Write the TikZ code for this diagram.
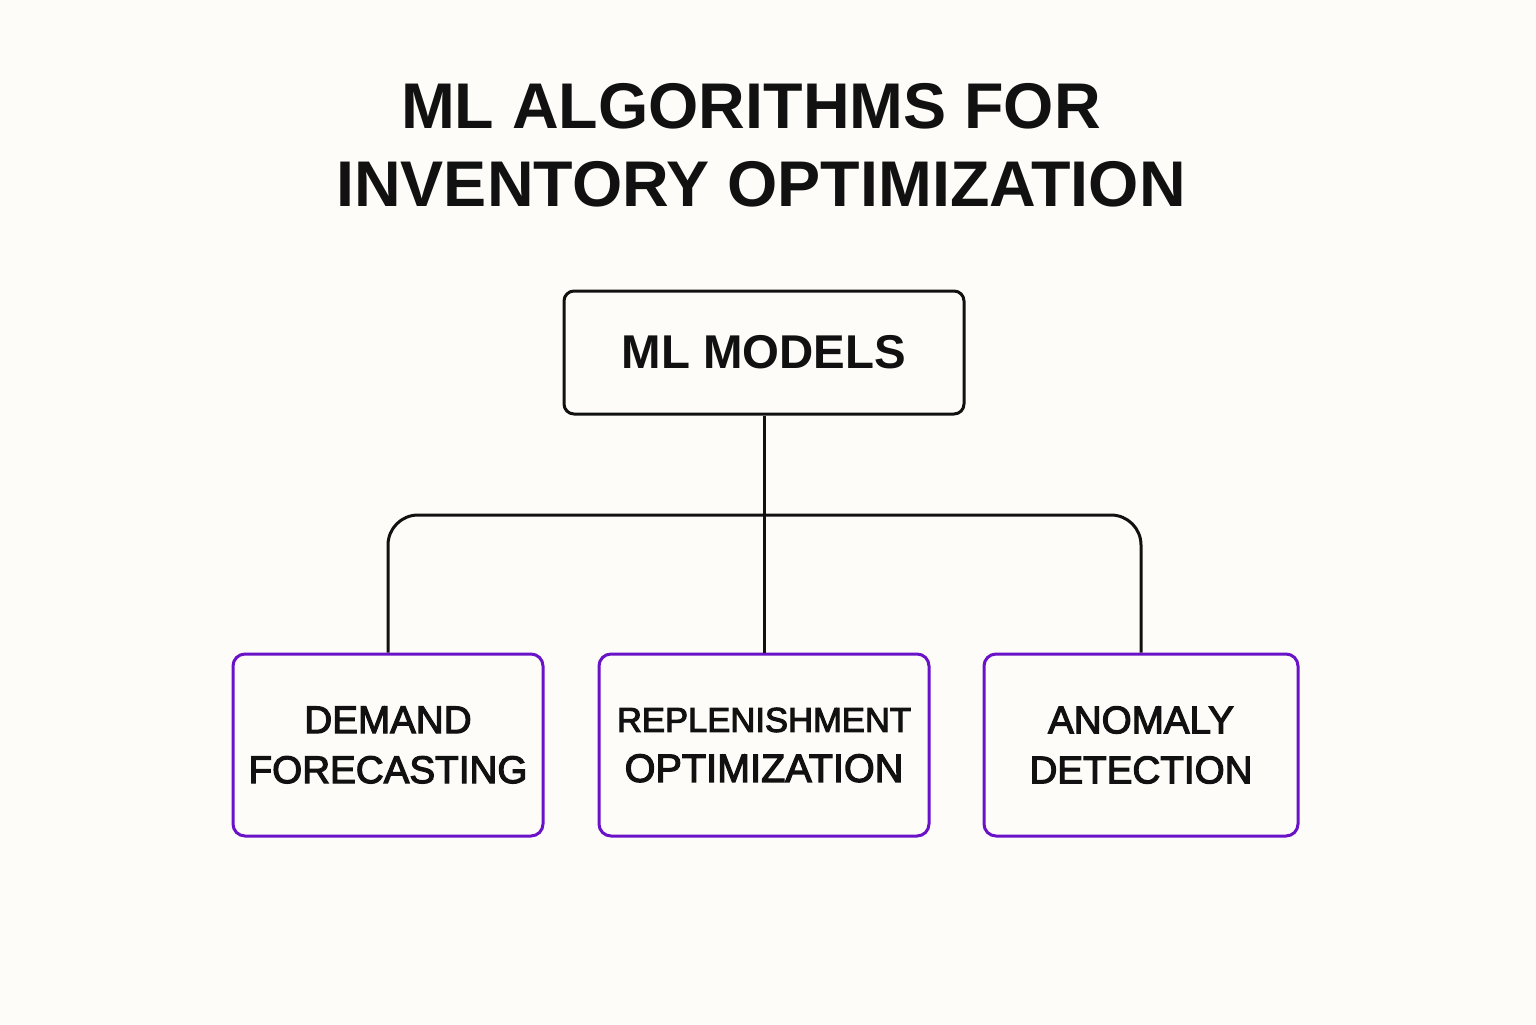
\documentclass[tikz,border=0pt]{standalone}
\usepackage{fontspec}
\setmainfont{Liberation Sans}
\newfontfamily\medfont[FakeBold=3]{Liberation Sans}
\definecolor{bg}{HTML}{FDFCF8}
\definecolor{purp}{HTML}{6A12C8}
\definecolor{ink}{HTML}{111111}
\tikzset{
  titletext/.style={font=\bfseries\fontsize{32.3}{39}\selectfont, text=ink, inner sep=0pt},
  topbox/.style={draw=ink, line width=1.5pt, rounded corners=5pt, fill=bg,
    minimum width=200pt, minimum height=61.5pt, inner sep=0pt,
    font=\bfseries\fontsize{23.7}{30}\selectfont, text=ink},
  leafbox/.style={draw=purp, line width=1.5pt, rounded corners=6pt, fill=bg,
    minimum height=91pt, inner sep=0pt, align=center,
    font=\medfont\fontsize{19.3}{25}\selectfont, text=ink},
  link/.style={draw=ink, line width=1.5pt}
}
\begin{document}
\begin{tikzpicture}[x=0.5pt,y=-0.5pt]
\fill[bg] (0,0) rectangle (1536,1024);
\useasboundingbox (0,0) rectangle (1536,1024);
\node[titletext, anchor=base] (title1) at (751,128) {ML ALGORITHMS FOR};
\node[titletext, anchor=base] (title2) at (761,206) {INVENTORY OPTIMIZATION};
\node[topbox] (top) at (764,352.5) {ML MODELS};
\coordinate (hub) at (764,515);
\node[leafbox, minimum width=155pt] (left) at (388,745) {DEMAND\\FORECASTING};
\node[leafbox, minimum width=165pt] (mid) at (764,745) {{\fontsize{17.3}{25}\selectfont REPLENISHMENT}\\{\fontsize{19.8}{25}\selectfont OPTIMIZATION}};
\node[leafbox, minimum width=157pt] (right) at (1141,745) {ANOMALY\\DETECTION};
\draw[link] (top.south) -- (mid.north);
\draw[link, rounded corners=15pt] (left.north) -- (left.north |- hub) -- (right.north |- hub) -- (right.north);
\end{tikzpicture}
\end{document}
